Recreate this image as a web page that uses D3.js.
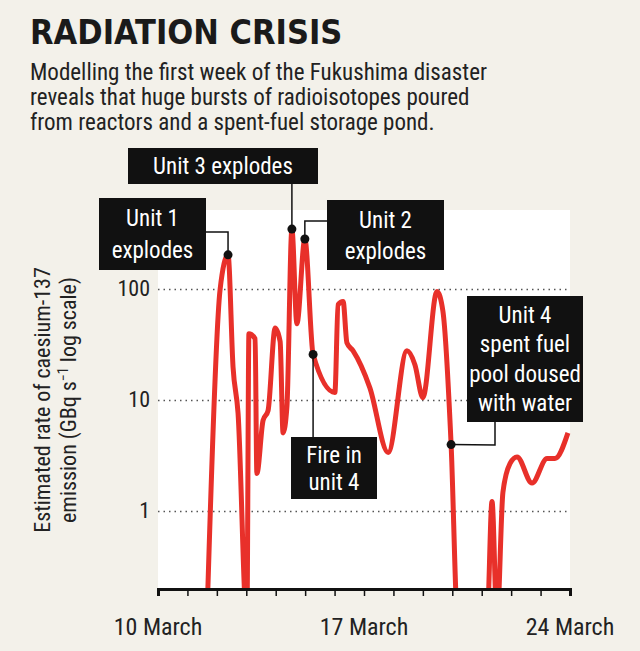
<!DOCTYPE html>
<html><head><meta charset="utf-8">
<script src="https://cdn.jsdelivr.net/npm/d3@7"></script>
<style>body{margin:0;background:#f3f1ea}text{font-family:"Liberation Sans Narrow","Roboto Condensed","DejaVu Sans Condensed",sans-serif}</style>
</head><body><svg id="c" width="640" height="651"></svg>
<script>
// days since 10 March 00:00, emission in GBq/s (0.1 = below axis / zero)
const days = [1.66,2.11,2.38,2.55,2.72,3.02,3.09,3.30,3.36,3.57,3.74,3.98,4.15,4.25,4.38,4.55,4.72,4.99,5.27,6.01,6.12,6.29,6.42,6.63,7.20,7.82,8.46,8.73,9.00,9.48,9.68,9.96,10.19,11.18,11.35,11.52,11.72,11.96,12.20,12.71,13.22,13.49,13.93];
const values = [0.1,100,205,20,7.7,0.1,40,36,2.2,6.6,8.1,45,34,5.1,8.7,350,49,285,26,11.8,73,78,33,28,13,3.4,28,21,10.6,96,64,4.0,0.1,0.1,1.23,0.1,1.48,2.7,3.1,1.8,3.0,3.0,5.1];
const yTicks = [1,10,100];
const xTicks = [0,7,14];
const xTickLabels = ["10 March","17 March","24 March"];
const notes = [
  {i:2, lines:["Unit 1","explodes"]},
  {i:15, lines:["Unit 3 explodes"]},
  {i:17, lines:["Unit 2","explodes"]},
  {i:18, lines:["Fire in","unit 4"]},
  {i:31, lines:["Unit 4","spent fuel","pool doused","with water"]}
];

const svg = d3.select("#c");
const L = 158, R = 570, T = 210, B = 589;
const x = d3.scaleLinear().domain([0,14]).range([L,R]);
const y = d3.scaleLog().domain([0.2,520]).range([B,T]);

svg.append("rect").attr("x",L).attr("y",T).attr("width",R-L).attr("height",B-T).attr("fill","#fff");
svg.append("clipPath").attr("id","clip").append("rect").attr("x",0).attr("y",0).attr("width",640).attr("height",B);

svg.append("text").attr("x",30).attr("y",44).attr("font-size",34).attr("font-weight","bold")
  .style("font-family","'DejaVu Sans Condensed',sans-serif").attr("fill","#1a1a1a").text("RADIATION CRISIS");
["Modelling the first week of the Fukushima disaster","reveals that huge bursts of radioisotopes poured","from reactors and a spent-fuel storage pond."]
  .forEach((t,k)=>svg.append("text").attr("x",30).attr("y",80+k*25).attr("font-size",23).attr("fill","#222").text(t));

svg.selectAll(".grid").data(yTicks).enter().append("line")
  .attr("x1",L).attr("x2",R).attr("y1",d=>y(d)).attr("y2",d=>y(d))
  .attr("stroke","#555").attr("stroke-width",1.5).attr("stroke-dasharray","1.5,4");
svg.selectAll(".yl").data(yTicks).enter().append("text")
  .attr("x",L-8).attr("y",d=>y(d)+7).attr("text-anchor","end").attr("font-size",22).attr("fill","#222").text(d=>d);

// line (clipped at the axis)
svg.append("path").datum(days.map((d,k)=>[d,values[k]]))
  .attr("clip-path","url(#clip)")
  .attr("d",d3.line().x(d=>x(d[0])).y(d=>y(d[1])).curve(d3.curveMonotoneX))
  .attr("fill","none").attr("stroke","#e8302a").attr("stroke-width",5).attr("stroke-linejoin","round");

const xa = svg.append("g").attr("transform",`translate(0,${B})`)
  .call(d3.axisBottom(x).ticks(14).tickSize(7).tickFormat(""));
xa.select(".domain").attr("stroke","#111").attr("stroke-width",3);
xa.selectAll(".tick line").attr("stroke","#111").attr("stroke-width",1.5);
svg.selectAll(".xl").data(xTicks).enter().append("text")
  .attr("x",d=>x(d)).attr("y",635).attr("text-anchor","middle").attr("font-size",24).attr("fill","#222")
  .text((d,k)=>xTickLabels[k]);

const yl = svg.append("g").attr("transform","translate(50,400) rotate(-90)");
yl.append("text").attr("text-anchor","middle").attr("font-size",22).attr("fill","#222").text("Estimated rate of caesium-137");
const t2 = yl.append("text").attr("y",26).attr("text-anchor","middle").attr("font-size",22).attr("fill","#222");
t2.append("tspan").text("emission (GBq s");
t2.append("tspan").attr("font-size",14).attr("dy",-8).text("−1");
t2.append("tspan").attr("dy",8).text(" log scale)");

const boxes = [
  {x:99,y:198,w:107,h:72, lead:p=>[[206,232],[p[0],232],p]},
  {x:128,y:148,w:190,h:36, lead:p=>[[p[0],184],p]},
  {x:327,y:200,w:117,h:70, lead:p=>[[327,221],[p[0],221],p]},
  {x:291,y:437,w:86,h:62, lead:p=>[[p[0],437],p]},
  {x:467,y:296,w:116,h:126, lead:p=>[[495,422],[495,445],p]}
];
notes.forEach((n,k)=>{
  const p = [x(days[n.i]), y(values[n.i])];
  const b = boxes[k];
  svg.append("path").attr("d",d3.line()(b.lead(p))).attr("fill","none").attr("stroke","#111").attr("stroke-width",1.5);
  svg.append("circle").attr("cx",p[0]).attr("cy",p[1]).attr("r",4.5).attr("fill","#111");
  svg.append("rect").attr("x",b.x).attr("y",b.y).attr("width",b.w).attr("height",b.h).attr("fill","#111");
  const lh = n.lines.length>1 ? (b.h-8)/n.lines.length : 0;
  n.lines.forEach((t,j)=>svg.append("text").attr("x",b.x+b.w/2)
    .attr("y",b.y+(n.lines.length>1?4+lh*(j+0.5)+8:b.h/2+8)).attr("text-anchor","middle")
    .attr("font-size",23).attr("fill","#fff").text(t));
});
</script></body></html>
